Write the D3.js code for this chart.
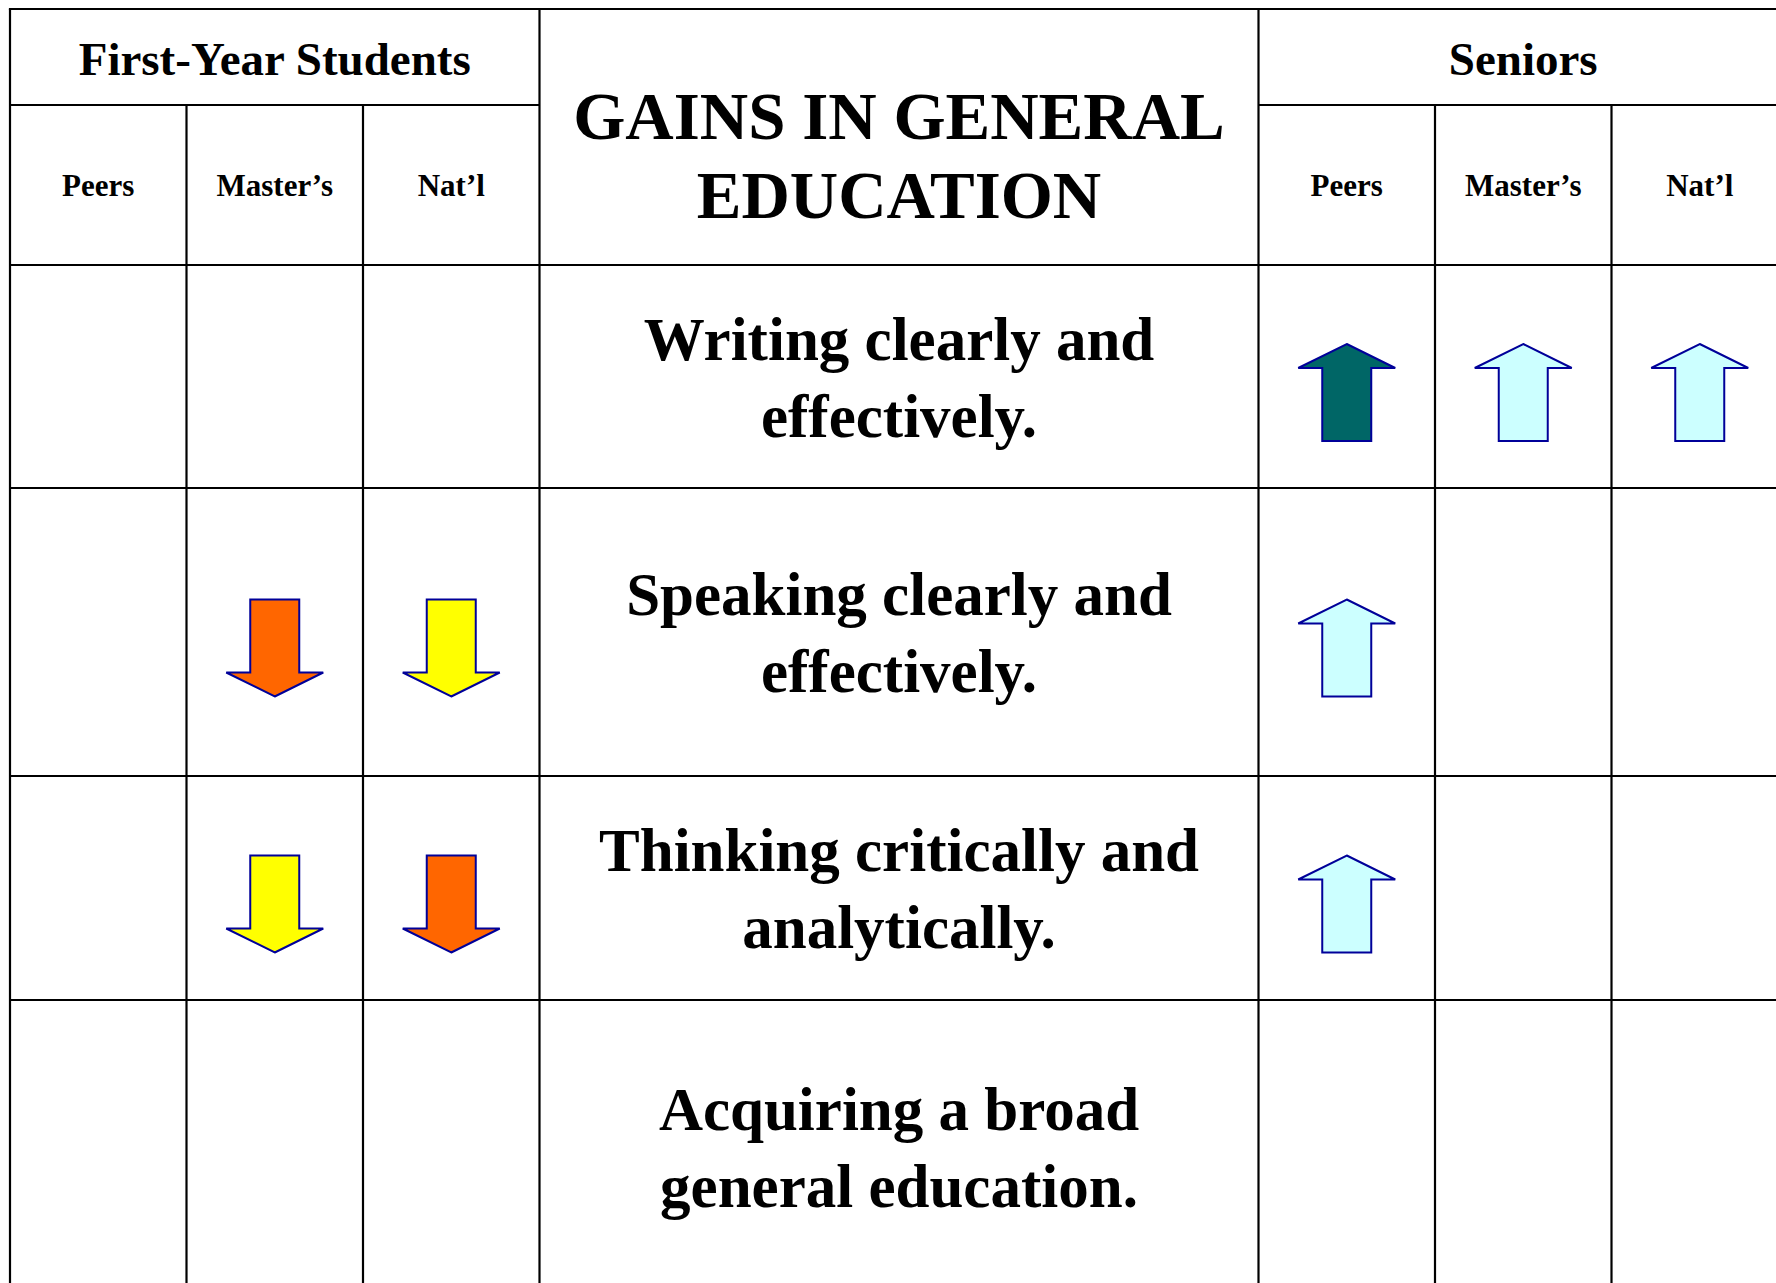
<!DOCTYPE html>
<html>
<head>
<meta charset="utf-8">
<script src="https://cdn.jsdelivr.net/npm/d3@7"></script>
<style>
  html, body { margin: 0; padding: 0; background: #ffffff; }
  svg { display: block; }
</style>
</head>
<body>
<svg id="chart" width="1776" height="1283"></svg>
<script>
// ---------- DATA ----------
const title = ["GAINS IN GENERAL", "EDUCATION"];
const groups = ["First-Year Students", "Seniors"];
const comparisons = ["Peers", "Master\u2019s", "Nat\u2019l"];
const items = [
  ["Writing clearly and", "effectively."],
  ["Speaking clearly and", "effectively."],
  ["Thinking critically and", "analytically."],
  ["Acquiring a broad", "general education."]
];
// arrow codes: 2 = strong up, 1 = up, 0 = none, -1 = down, -2 = strong down
const firstYear = [
  [0, 0, 0],
  [0, -2, -1],
  [0, -1, -2],
  [0, 0, 0]
];
const seniors = [
  [2, 1, 1],
  [1, 0, 0],
  [1, 0, 0],
  [0, 0, 0]
];
const arrowCodes = [2, 1, -1, -2];
const arrowFills = ["#006666", "#CCFFFF", "#FFFF00", "#FF6600"];

// ---------- LAYOUT ----------
const svg = d3.select("#chart");
const leftX = 10, topY = 9;
const subColW = 176.5;
const midW = 719;
const groupHeadBottom = 105, headBottom = 265;
const rowEdges = [265, 488, 776, 1000, 1293];

const fyX0 = leftX, fyX1 = leftX + 3 * subColW;
const midX0 = fyX1, midX1 = midX0 + midW;
const snX0 = midX1, snX1 = snX0 + 3 * subColW;

const xFY = d3.scaleBand().domain(comparisons).range([fyX0, fyX1]);
const xSN = d3.scaleBand().domain(comparisons).range([snX0, snX1]);
const yRow = d3.scaleOrdinal().domain(d3.range(items.length))
  .range(d3.range(items.length).map(i => (rowEdges[i] + rowEdges[i + 1]) / 2));
const fill = d3.scaleOrdinal().domain(arrowCodes).range(arrowFills);

const serif = "'Liberation Serif', 'Times New Roman', serif";
const g = svg.append("g");

// ---------- GRID ----------
const lineColor = "#000000";
const lw = 2.2;
function hline(y, x0, x1) {
  g.append("line").attr("x1", x0).attr("x2", x1).attr("y1", y).attr("y2", y)
    .attr("stroke", lineColor).attr("stroke-width", lw);
}
function vline(x, y0, y1) {
  g.append("line").attr("x1", x).attr("x2", x).attr("y1", y0).attr("y2", y1)
    .attr("stroke", lineColor).attr("stroke-width", lw);
}
const bottomY = rowEdges[rowEdges.length - 1];
hline(topY, leftX - lw / 2, snX1);
hline(groupHeadBottom, fyX0, fyX1);
hline(groupHeadBottom, snX0, snX1);
rowEdges.forEach(y => hline(y, leftX, snX1));
[fyX0, midX0, midX1, snX1].forEach(x => vline(x, topY, bottomY));
comparisons.slice(1).forEach(c => {
  vline(xFY(c), groupHeadBottom, bottomY);
  vline(xSN(c), groupHeadBottom, bottomY);
});

// ---------- HEADERS ----------
const groupCenters = [(fyX0 + fyX1) / 2, (snX0 + snX1) / 2];
g.selectAll("text.group").data(groups).enter().append("text")
  .attr("class", "group")
  .attr("x", (d, i) => groupCenters[i])
  .attr("y", 75)
  .attr("text-anchor", "middle")
  .attr("font-family", serif).attr("font-weight", "bold").attr("font-size", 47)
  .text(d => d);

[xFY, xSN].forEach(sc => {
  g.selectAll(null).data(comparisons).enter().append("text")
    .attr("x", d => sc(d) + sc.bandwidth() / 2)
    .attr("y", 196)
    .attr("text-anchor", "middle")
    .attr("font-family", serif).attr("font-weight", "bold").attr("font-size", 31)
    .text(d => d);
});

g.selectAll("text.title").data(title).enter().append("text")
  .attr("class", "title")
  .attr("x", (midX0 + midX1) / 2)
  .attr("y", (d, i) => 139 + i * 79)
  .attr("text-anchor", "middle")
  .attr("font-family", serif).attr("font-weight", "bold").attr("font-size", 67)
  .text(d => d);

// ---------- ROW LABELS ----------
items.forEach((lines, i) => {
  g.selectAll(null).data(lines).enter().append("text")
    .attr("x", (midX0 + midX1) / 2)
    .attr("y", (d, j) => yRow(i) - 17 + j * 77)
    .attr("text-anchor", "middle")
    .attr("font-family", serif).attr("font-weight", "bold").attr("font-size", 61)
    .text(d => d);
});

// ---------- ARROWS ----------
const AW = 97, AH = 97, SW = 49, HH = 24;
function arrowPath(cx, cy, dir) {
  // dir = 1 up, -1 down
  const s = -dir;
  const tipY = cy + s * AH / 2;
  const baseY = tipY - s * HH;
  const endY = cy - s * AH / 2;
  const p = d3.path();
  p.moveTo(cx, tipY);
  p.lineTo(cx + AW / 2, baseY);
  p.lineTo(cx + SW / 2, baseY);
  p.lineTo(cx + SW / 2, endY);
  p.lineTo(cx - SW / 2, endY);
  p.lineTo(cx - SW / 2, baseY);
  p.lineTo(cx - AW / 2, baseY);
  p.closePath();
  return p.toString();
}
const arrowData = [];
[[firstYear, xFY], [seniors, xSN]].forEach(([mat, sc]) => {
  mat.forEach((row, i) => row.forEach((v, j) => {
    if (v !== 0) arrowData.push({ v, cx: sc(comparisons[j]) + sc.bandwidth() / 2, cy: yRow(i) + 16 });
  }));
});
g.selectAll("path.arrow").data(arrowData).enter().append("path")
  .attr("class", "arrow")
  .attr("d", d => arrowPath(d.cx, d.cy, Math.sign(d.v)))
  .attr("fill", d => fill(d.v))
  .attr("stroke", "#000099")
  .attr("stroke-width", 2)
  .attr("stroke-linejoin", "miter");
</script>
</body>
</html>
